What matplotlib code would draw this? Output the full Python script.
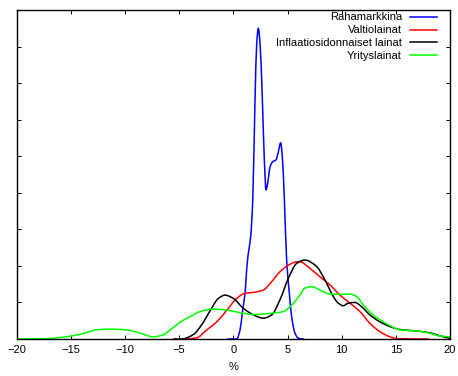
import matplotlib
matplotlib.use("Agg")
import matplotlib.pyplot as plt
from matplotlib.path import Path
from matplotlib.patches import PathPatch
from matplotlib.lines import Line2D

plt.rcParams['font.family'] = ['Liberation Sans', 'DejaVu Sans']

labels = ["Rahamarkkina", "Valtiolainat", "Inflaatiosidonnaiset lainat", "Yrityslainat"]
colors = ["#0000ff", "#ff0000", "#000000", "#00ff00"]

raha_x = [-0.5, 0.31, 0.62, 0.86, 1.08, 1.23, 1.38, 1.6, 1.79, 2.0, 2.16, 2.31, 2.46, 2.68,
          2.86, 3.02, 3.17, 3.39, 3.63, 3.94, 4.15, 4.37, 4.52, 4.71, 4.92, 5.17, 5.38, 5.69,
          6.0, 6.5]
raha_y = [0, 0, 0.025, 0.08, 0.125, 0.19, 0.234, 0.28, 0.38, 0.654, 0.81, 0.85, 0.81, 0.654,
          0.49, 0.408, 0.427, 0.471, 0.485, 0.49, 0.512, 0.537, 0.499, 0.38, 0.216, 0.125, 0.061,
          0.016, 0.002, 0]

valtio_x = [-5.0, -4.5, -3.4, -2.45, -1.53, -0.6, 0.31, 1.08, 2.0, 2.77, 3.54, 4.3, 5.08, 5.85,
            6.15, 7.08, 8.0, 8.92, 9.84, 10.77, 11.69, 12.6, 13.53, 14.45, 15.1, 18.0]
valtio_y = [0, 0, 0.003, 0.025, 0.047, 0.079, 0.111, 0.125, 0.128, 0.134, 0.157, 0.184, 0.202,
            0.211, 0.211, 0.193, 0.17, 0.148, 0.12, 0.098, 0.075, 0.043, 0.02, 0.006, 0.001, 0]

infl_x = [-5.5, -4.8, -3.7, -2.9, -2.15, -1.38, -0.77, 0.0, 0.92, 1.85, 2.77, 3.54, 4.3, 5.08,
          5.85, 6.6, 7.7, 8.3, 8.77, 9.23, 9.69, 10.15, 10.6, 11.23, 11.85, 12.6, 13.53, 14.45,
          15.38, 16.9, 18.1, 19.4, 20.0]
infl_y = [0, 0, 0.012, 0.04, 0.077, 0.111, 0.12, 0.111, 0.084, 0.066, 0.057, 0.066, 0.107,
          0.166, 0.207, 0.216, 0.198, 0.17, 0.143, 0.116, 0.098, 0.091, 0.098, 0.1, 0.088, 0.066,
          0.047, 0.034, 0.026, 0.022, 0.017, 0.006, 0.002]

yritys_x = [-20.0, -17.3, -15.0, -13.6, -12.7, -11.4, -9.9, -8.7, -7.4, -6.5, -5.84, -4.6, -4.0,
            -3.07, -1.85, -0.6, 0.62, 1.85, 3.39, 4.6, 5.39, 6.15, 6.6, 7.23, 8.0, 8.92, 9.84,
            10.77, 11.38, 12.0, 12.9, 13.84, 14.76, 15.38, 16.9, 18.1, 19.1, 20.0]
yritys_y = [0, 0.001, 0.008, 0.017, 0.025, 0.027, 0.025, 0.017, 0.006, 0.011, 0.025, 0.052,
            0.061, 0.075, 0.082, 0.079, 0.072, 0.067, 0.07, 0.075, 0.093, 0.12, 0.139, 0.143,
            0.134, 0.123, 0.122, 0.123, 0.116, 0.093, 0.066, 0.047, 0.032, 0.025, 0.022, 0.016,
            0.008, 0.006]

xticks = [-20, -15, -10, -5, 0, 5, 10, 15, 20]
yticks = [0, 0.1, 0.2, 0.3, 0.4, 0.5, 0.6, 0.7, 0.8, 0.9]


def smooth_path(xs, ys):
    """Monotone cubic (Fritsch-Carlson) curve through the read points, as Bezier path."""
    n = len(xs)
    h = [xs[i + 1] - xs[i] for i in range(n - 1)]
    d = [(ys[i + 1] - ys[i]) / h[i] for i in range(n - 1)]
    m = [0.0] * n
    m[0], m[-1] = d[0], d[-1]
    for i in range(1, n - 1):
        if d[i - 1] * d[i] <= 0:
            m[i] = 0.0
        else:
            w1 = 2 * h[i] + h[i - 1]
            w2 = h[i] + 2 * h[i - 1]
            m[i] = (w1 + w2) / (w1 / d[i - 1] + w2 / d[i])
    verts = [(xs[0], ys[0])]
    codes = [Path.MOVETO]
    for i in range(n - 1):
        verts += [(xs[i] + h[i] / 3, ys[i] + m[i] * h[i] / 3),
                  (xs[i + 1] - h[i] / 3, ys[i + 1] - m[i + 1] * h[i] / 3),
                  (xs[i + 1], ys[i + 1])]
        codes += [Path.CURVE4] * 3
    return Path(verts, codes)


fig = plt.figure(figsize=(4.58, 3.76), dpi=100)
ax = fig.add_axes([16.7 / 458, 37 / 376, 433.3 / 458, 329 / 376])

series = [(raha_x, raha_y), (valtio_x, valtio_y), (infl_x, infl_y), (yritys_x, yritys_y)]
handles = []
for (xs, ys), lab, c in zip(series, labels, colors):
    patch = PathPatch(smooth_path(xs, ys), facecolor='none', edgecolor=c, lw=1.1,
                      transform=ax.transData, zorder=2, joinstyle='round', capstyle='round')
    ax.add_patch(patch)
    handles.append(Line2D([], [], color=c, lw=1.1, label=lab))

ax.set_xlim(-20, 20)
ax.set_ylim(0, 0.9)
ax.set_xticks(xticks)
ax.set_xticklabels([str(t).replace('-', '\u2212') for t in xticks])
ax.set_yticks(yticks)
ax.set_yticklabels([])
ax.tick_params(direction='in', length=3, width=0.7, top=True, right=True,
               labelsize=8, pad=4, colors='black')
for s in ax.spines.values():
    s.set_linewidth(1.0)
    s.set_zorder(3)
ax.set_xlabel('%', fontsize=8, labelpad=5)

leg = ax.legend(handles=handles, loc='upper right',
                bbox_to_anchor=(1 - 13 / 433.3, 1 - 2.5 / 329),
                frameon=False, markerfirst=False, fontsize=8, borderpad=0,
                labelspacing=0.26, handlelength=2.4, handletextpad=0.75,
                borderaxespad=0)

fig.savefig('out.png', dpi=100)
